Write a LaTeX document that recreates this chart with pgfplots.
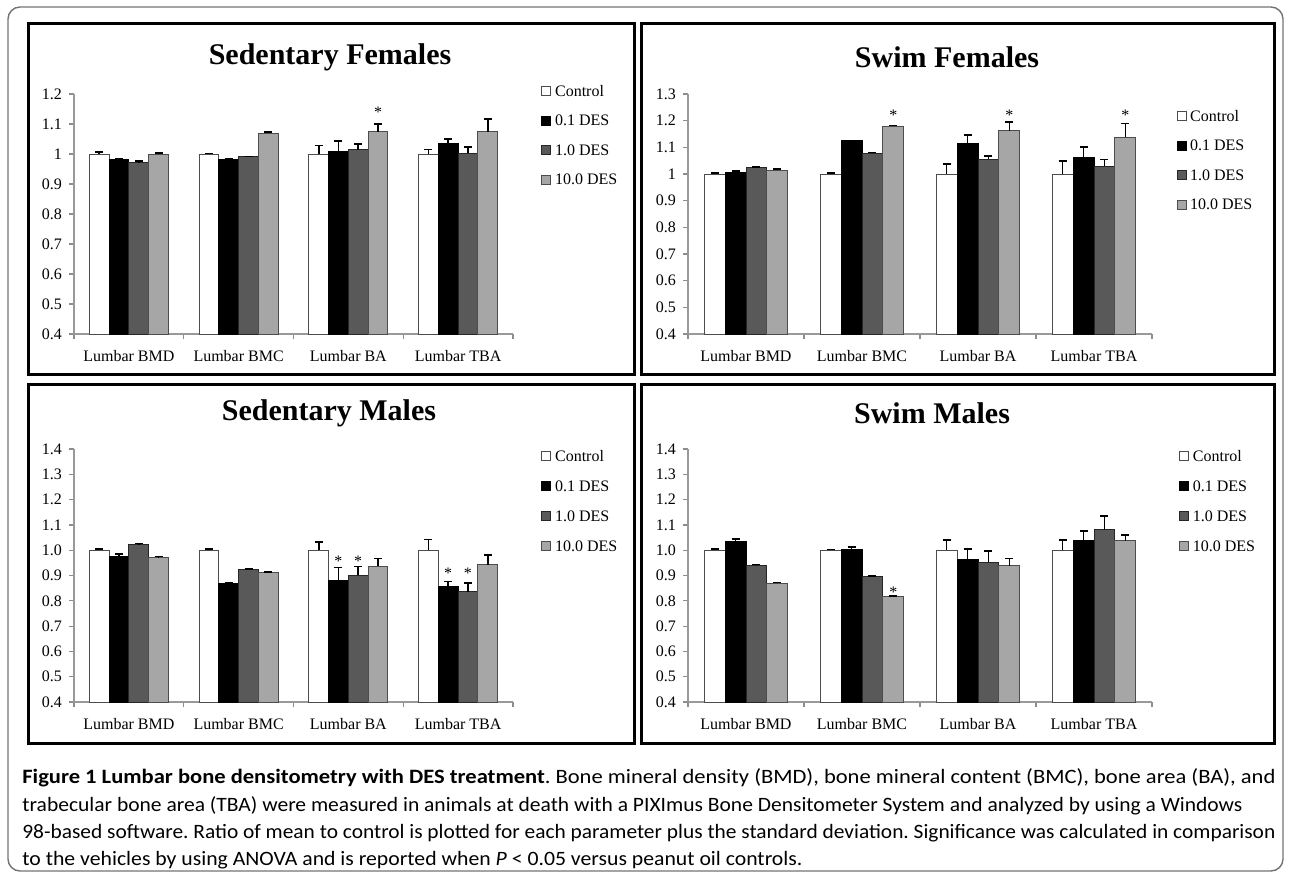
\documentclass[border=0pt]{standalone}
\usepackage{graphicx}
\usepackage{pgfplots}
\pgfplotsset{compat=1.18}
\usepackage{fontspec}
\setmainfont{Liberation Serif}
\newfontfamily\capfont{Carlito}

\definecolor{dgray}{HTML}{595959}
\definecolor{lgray}{HTML}{A6A6A6}

\pgfplotsset{
  sqlegend/.style={legend image code/.code={\draw[##1, line width=0.5pt] (0pt,-2.65pt) rectangle (4.5pt,1.85pt);}},
  panel/.style={
    scale only axis,
    anchor=south west,
    ybar=0pt,
    bar width=0.18,
    axis lines*=left,
    axis line style={draw=black!40, line width=0.6pt},
    tick style={draw=black!45, line width=0.6pt},
    tick align=outside,
    major tick length=2.5pt,
    xmin=-0.5, xmax=3.5,
    xtick={-0.5,0.5,1.5,2.5,3.5},
    x tick label as interval,
    xticklabels={Lumbar BMD,Lumbar BMC,Lumbar BA,Lumbar TBA},
    ymin=0.4,
    enlargelimits=false,
    /pgf/number format/assume math mode=true,
    tick label style={font=\fontsize{8}{9}\selectfont},
    xticklabel style={yshift=-2pt},
    every axis plot/.append style={sqlegend},
    legend style={draw=none, fill=none, font=\fontsize{8}{9}\selectfont,
      nodes={inner sep=0pt, text height=6pt, text depth=0pt},
      row sep=8.75pt, column sep=1.8pt, anchor=north west, inner sep=0pt},
    legend cell align=left,
    error bars/y dir=plus,
    error bars/y explicit,
    error bars/error bar style={black, line width=0.8pt},
    error bars/error mark options={black, mark size=2pt, line width=0.8pt, rotate=90},
  },
  ctrl/.style={fill=white, draw=black!70, line width=0.5pt},
  dA/.style={fill=black, draw=black, line width=0.5pt},
  dB/.style={fill=dgray, draw=black!85, line width=0.5pt},
  dC/.style={fill=lgray, draw=black!70, line width=0.5pt},
}

\begin{document}
\frenchspacing
\begin{tikzpicture}[x=0.5pt,y=0.5pt]
\useasboundingbox (0,0) rectangle (1290,875);

% outer frame
\draw[black!55, line width=0.7pt, rounded corners=6pt] (8,868) rectangle (1283,4);
% panel frames
\draw[black, line width=1.5pt] (28,851) rectangle (634,501);
\draw[black, line width=1.5pt] (641,851) rectangle (1274,501);
\draw[black, line width=1.5pt] (28,491) rectangle (634,132);
\draw[black, line width=1.5pt] (641,491) rectangle (1274,132);

% titles
\node[font=\fontsize{15}{18}\selectfont\bfseries] at (330,818) {Sedentary Females};
\node[font=\fontsize{15}{18}\selectfont\bfseries] at (947,818) {Swim Females};
\node[font=\fontsize{15}{18}\selectfont\bfseries] at (329,462) {Sedentary Males};
\node[font=\fontsize{15}{18}\selectfont\bfseries] at (932,462) {Swim Males};

% ---------- Sedentary Females ----------
\begin{axis}[panel, at={(37pt,270.5pt)}, width=219.5pt, height=120pt,
  ymax=1.2, ytick={0.4,0.5,0.6,0.7,0.8,0.9,1.0,1.1,1.2},
  legend style={at={(1.064,1.042)}}]
\addplot[ctrl] coordinates {(0,1.000) +- (0,0.007) (1,1.000) +- (0,0.002) (2,1.000) +- (0,0.029) (3,1.000) +- (0,0.015)};
\addplot[dA] coordinates {(0,0.982) +- (0,0.001) (1,0.982) +- (0,0.001) (2,1.007) +- (0,0.037) (3,1.035) +- (0,0.016)};
\addplot[dB] coordinates {(0,0.971) +- (0,0.006) (1,0.991) +- (0,0.001) (2,1.015) +- (0,0.018) (3,1.002) +- (0,0.021)};
\addplot[dC] coordinates {(0,1.000) +- (0,0.003) (1,1.069) +- (0,0.004) (2,1.074) +- (0,0.027) (3,1.074) +- (0,0.043)};
\legend{Control,0.1 DES,1.0 DES,10.0 DES}
\node[font=\fontsize{8}{9}\selectfont] at (axis cs:2.27,1.140) {*};
\end{axis}

% ---------- Swim Females ----------
\begin{axis}[panel, at={(344pt,270.5pt)}, width=232pt, height=120pt,
  ymax=1.3, ytick={0.4,0.5,0.6,0.7,0.8,0.9,1.0,1.1,1.2,1.3},
  legend style={at={(1.052,0.9375)}}]
\addplot[ctrl] coordinates {(0,1.000) +- (0,0.004) (1,1.000) +- (0,0.004) (2,1.000) +- (0,0.037) (3,1.000) +- (0,0.049)};
\addplot[dA] coordinates {(0,1.007) +- (0,0.005) (1,1.124) +- (0,0.001) (2,1.114) +- (0,0.033) (3,1.063) +- (0,0.039)};
\addplot[dB] coordinates {(0,1.024) +- (0,0.003) (1,1.077) +- (0,0.004) (2,1.055) +- (0,0.013) (3,1.030) +- (0,0.025)};
\addplot[dC] coordinates {(0,1.014) +- (0,0.005) (1,1.179) +- (0,0.003) (2,1.163) +- (0,0.032) (3,1.137) +- (0,0.053)};
\legend{Control,0.1 DES,1.0 DES,10.0 DES}
\node[font=\fontsize{8}{9}\selectfont] at (axis cs:1.27,1.222) {*};
\node[font=\fontsize{8}{9}\selectfont] at (axis cs:2.27,1.222) {*};
\node[font=\fontsize{8}{9}\selectfont] at (axis cs:3.27,1.222) {*};
\end{axis}

% ---------- Sedentary Males ----------
\begin{axis}[panel, at={(37pt,86.5pt)}, width=219.5pt, height=126.5pt,
  ymax=1.4, ytick={0.4,0.5,0.6,0.7,0.8,0.9,1.0,1.1,1.2,1.3,1.4},
  yticklabel style={/pgf/number format/.cd,fixed,fixed zerofill,precision=1},
  legend style={at={(1.064,1.0)}, row sep=9pt}]
\addplot[ctrl] coordinates {(0,1.000) +- (0,0.005) (1,1.000) +- (0,0.004) (2,1.000) +- (0,0.033) (3,1.000) +- (0,0.043)};
\addplot[dA] coordinates {(0,0.976) +- (0,0.010) (1,0.867) +- (0,0.004) (2,0.880) +- (0,0.052) (3,0.855) +- (0,0.021)};
\addplot[dB] coordinates {(0,1.021) +- (0,0.005) (1,0.922) +- (0,0.004) (2,0.901) +- (0,0.035) (3,0.836) +- (0,0.035)};
\addplot[dC] coordinates {(0,0.971) +- (0,0.004) (1,0.912) +- (0,0.002) (2,0.937) +- (0,0.030) (3,0.942) +- (0,0.038)};
\legend{Control,0.1 DES,1.0 DES,10.0 DES}
\node[font=\fontsize{8}{9}\selectfont] at (axis cs:1.91,0.957) {*};
\node[font=\fontsize{8}{9}\selectfont] at (axis cs:2.09,0.957) {*};
\node[font=\fontsize{8}{9}\selectfont] at (axis cs:2.91,0.908) {*};
\node[font=\fontsize{8}{9}\selectfont] at (axis cs:3.09,0.908) {*};
\end{axis}

% ---------- Swim Males ----------
\begin{axis}[panel, at={(344pt,86.5pt)}, width=232pt, height=126.5pt,
  ymax=1.4, ytick={0.4,0.5,0.6,0.7,0.8,0.9,1.0,1.1,1.2,1.3,1.4},
  yticklabel style={/pgf/number format/.cd,fixed,fixed zerofill,precision=1},
  legend style={at={(1.058,1.0)}, row sep=9pt}]
\addplot[ctrl] coordinates {(0,1.000) +- (0,0.004) (1,1.000) +- (0,0.003) (2,1.000) +- (0,0.040) (3,1.000) +- (0,0.040)};
\addplot[dA] coordinates {(0,1.034) +- (0,0.010) (1,1.003) +- (0,0.009) (2,0.964) +- (0,0.041) (3,1.040) +- (0,0.035)};
\addplot[dB] coordinates {(0,0.939) +- (0,0.004) (1,0.895) +- (0,0.004) (2,0.952) +- (0,0.044) (3,1.081) +- (0,0.054)};
\addplot[dC] coordinates {(0,0.870) +- (0,0.003) (1,0.817) +- (0,0.001) (2,0.939) +- (0,0.029) (3,1.038) +- (0,0.023)};
\legend{Control,0.1 DES,1.0 DES,10.0 DES}
\node[font=\fontsize{8}{9}\selectfont] at (axis cs:1.27,0.835) {*};
\end{axis}

% caption
\begin{scope}[every node/.style={anchor=base west, inner sep=0pt, font=\capfont\fontsize{10.2}{12}\selectfont}]
\node at (22,92) {\resizebox{626.5pt}{\height}{\textbf{Figure 1 Lumbar bone densitometry with DES treatment}. Bone mineral density (BMD), bone mineral content (BMC), bone area (BA), and}};
\node at (22,64) {\resizebox{610pt}{\height}{trabecular bone area (TBA) were measured in animals at death with a PIXImus Bone Densitometer System and analyzed by using a Windows}};
\node at (22,37) {\resizebox{626.5pt}{\height}{98-based software. Ratio of mean to control is plotted for each parameter plus the standard deviation. Significance was calculated in comparison}};
\node at (22,10) {\resizebox{390pt}{\height}{to the vehicles by using ANOVA and is reported when \textit{P} < 0.05 versus peanut oil controls.}};
\end{scope}
\end{tikzpicture}
\end{document}
